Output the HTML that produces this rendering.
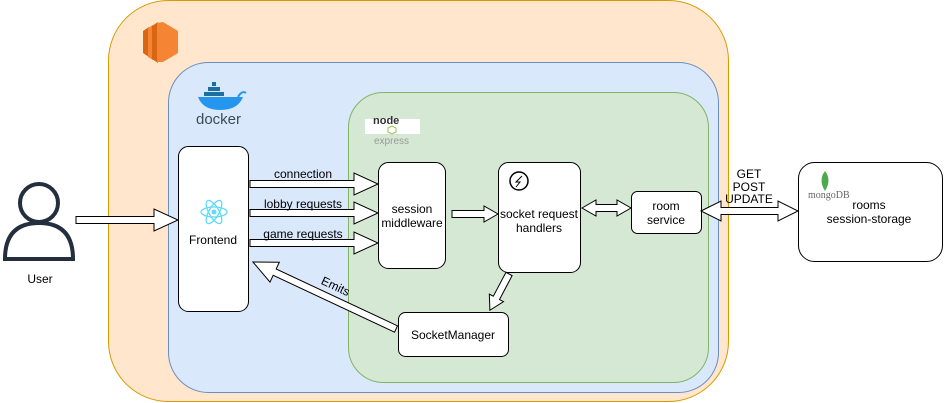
<!DOCTYPE html>
<html><head><meta charset="utf-8"><style>
html,body{margin:0;padding:0;background:#fff;}
svg{display:block;}
text{font-family:"Liberation Sans",Arial,sans-serif;font-size:12px;fill:#000;}
</style></head><body>
<svg width="944" height="403" viewBox="0 0 944 403" xmlns="http://www.w3.org/2000/svg">
<!-- containers -->
<rect x="108.5" y="0.5" width="620" height="401" rx="60" fill="#ffe6cc" stroke="#d79b00"/>
<rect x="168.5" y="62.5" width="550" height="330" rx="40" fill="#dae8fc" stroke="#6c8ebf"/>
<rect x="348.5" y="92.5" width="360" height="290" rx="35" fill="#d5e8d4" stroke="#82b366"/>
<!-- AWS icon -->
<polygon points="143,31 149,27 149,57 143,53" fill="#d86613"/>
<polygon points="148,28 153,25 153,60 148,57" fill="#f58534"/>
<polygon points="152,26 158,22 158,63 152,59" fill="#d86613"/>
<polygon points="157,23 163,22 178,31 178,53 163,62 157,62" fill="#f58534"/>
<!-- docker -->
<g>
<rect x="212" y="82" width="4" height="4" fill="#1d6fa0"/>
<rect x="208" y="87" width="4" height="4" fill="#1d6fa0"/><rect x="212" y="87" width="4" height="4" fill="#1d6fa0"/><rect x="216" y="87" width="4" height="4" fill="#1d6fa0"/>
<rect x="204" y="92" width="4" height="4" fill="#1d6fa0"/><rect x="208" y="92" width="4" height="4" fill="#1d6fa0"/><rect x="212" y="92" width="4" height="4" fill="#1d6fa0"/><rect x="216" y="92" width="4" height="4" fill="#1d6fa0"/><rect x="220" y="92" width="4" height="4" fill="#1d6fa0"/>
<path d="M198,97 L243,97 Q238,110 220,110 Q203,110 198,97 Z" fill="#2496ed"/>
<path d="M238,97 Q242,90 246,93" stroke="#2496ed" stroke-width="2" fill="none"/>
<text x="196" y="124" style="font-size:15px;fill:#394d54">docker</text>
</g>
<!-- node express -->
<rect x="365" y="119" width="55" height="15" fill="#fff"/>
<text x="373" y="124" style="font-size:11px;font-weight:bold;fill:#333">node</text>
<polygon points="392,126 396,128 396,132 392,134 388,132 388,128" fill="none" stroke="#8cc84b"/>
<text x="374" y="144" style="font-size:10px;fill:#999">express</text>
<!-- nodes -->
<rect x="178.5" y="146.5" width="70" height="165" rx="10" fill="#fff" stroke="#000"/>
<g stroke="#61dafb" fill="none" stroke-width="1.3">
<ellipse cx="214" cy="212" rx="13" ry="5"/>
<ellipse cx="214" cy="212" rx="13" ry="5" transform="rotate(60 214 212)"/>
<ellipse cx="214" cy="212" rx="13" ry="5" transform="rotate(-60 214 212)"/>
</g><circle cx="214" cy="212" r="2.5" fill="#61dafb"/>
<text x="213" y="244" text-anchor="middle">Frontend</text>

<rect x="378.5" y="162.5" width="67" height="106" rx="10" fill="#fff" stroke="#000"/>
<text x="412" y="213" text-anchor="middle">session</text>
<text x="412" y="227" text-anchor="middle">middleware</text>

<rect x="498.5" y="162.5" width="82" height="110" rx="10" fill="#fff" stroke="#000"/>
<circle cx="519" cy="181" r="9" fill="none" stroke="#000" stroke-width="1.5"/>
<path d="M522,176 L516,182 L520,182 L516,187" stroke="#000" fill="none"/>
<text x="539" y="218" text-anchor="middle">socket request</text>
<text x="539" y="232" text-anchor="middle">handlers</text>

<rect x="631.5" y="191.5" width="70" height="42" rx="6" fill="#fff" stroke="#000"/>
<text x="666" y="210" text-anchor="middle">room</text>
<text x="666" y="224" text-anchor="middle">service</text>

<rect x="798.5" y="162.5" width="144" height="99" rx="16" fill="#fff" stroke="#000"/>
<path d="M825,171 Q832,180 825,191 Q818,180 825,171 Z" fill="#4fa94d"/>
<text x="808" y="198" style="font-family:'Liberation Serif',serif;font-size:10px;fill:#666">mongoDB</text>
<text x="869" y="209" text-anchor="middle">rooms</text>
<text x="869" y="223" text-anchor="middle">session-storage</text>

<rect x="398.5" y="312.5" width="110" height="44" rx="7" fill="#fff" stroke="#000"/>
<text x="453" y="339" text-anchor="middle">SocketManager</text>

<!-- user -->
<circle cx="39" cy="203" r="19" fill="none" stroke="#232f3e" stroke-width="4"/>
<path d="M5,259 Q5,223 39,223 Q73,223 73,259 Z" fill="none" stroke="#232f3e" stroke-width="4"/>
<text x="40" y="283" text-anchor="middle">User</text>

<!-- arrows -->
<g fill="#fff" stroke="#000" stroke-width="1">
<polygon transform="translate(76,220)" points="0,-3.5 78,-3.5 78,-11 102,0 78,11 78,3.5 0,3.5"/>
<polygon transform="translate(250,184)" points="0,-3.5 104,-3.5 104,-11 128,0 104,11 104,3.5 0,3.5"/>
<polygon transform="translate(250,213)" points="0,-3.5 104,-3.5 104,-11 128,0 104,11 104,3.5 0,3.5"/>
<polygon transform="translate(250,243)" points="0,-3.5 104,-3.5 104,-11 128,0 104,11 104,3.5 0,3.5"/>
<polygon transform="translate(452,214)" points="0,-3.5 32,-3.5 32,-8 46,0 32,8 32,3.5 0,3.5"/>
<polygon transform="translate(582,208)" points="0,0 14,-8 14,-3.5 35,-3.5 35,-8 49,0 35,8 35,3.5 14,3.5 14,8"/>
<polygon transform="translate(701,211)" points="0,0 20,-10 20,-3.5 77,-3.5 77,-10 97,0 77,10 77,3.5 20,3.5 20,10"/>
<polygon transform="translate(509,274) rotate(117.8)" points="0,-3.5 27,-3.5 27,-8 41,0 27,8 27,3.5 0,3.5"/>
<polygon transform="translate(396,329) rotate(205.1)" points="0,-3.5 134,-3.5 134,-11 158,0 134,11 134,3.5 0,3.5"/>
</g>
<text x="303" y="178" text-anchor="middle">connection</text>
<text x="303" y="208" text-anchor="middle">lobby requests</text>
<text x="303" y="238" text-anchor="middle">game requests</text>
<text x="322" y="284" transform="rotate(25 322 280)">Emits</text>
<text x="749" y="178" text-anchor="middle">GET</text>
<text x="749" y="191" text-anchor="middle">POST</text>
<text x="749" y="203" text-anchor="middle">UPDATE</text>
</svg>
</body></html>
